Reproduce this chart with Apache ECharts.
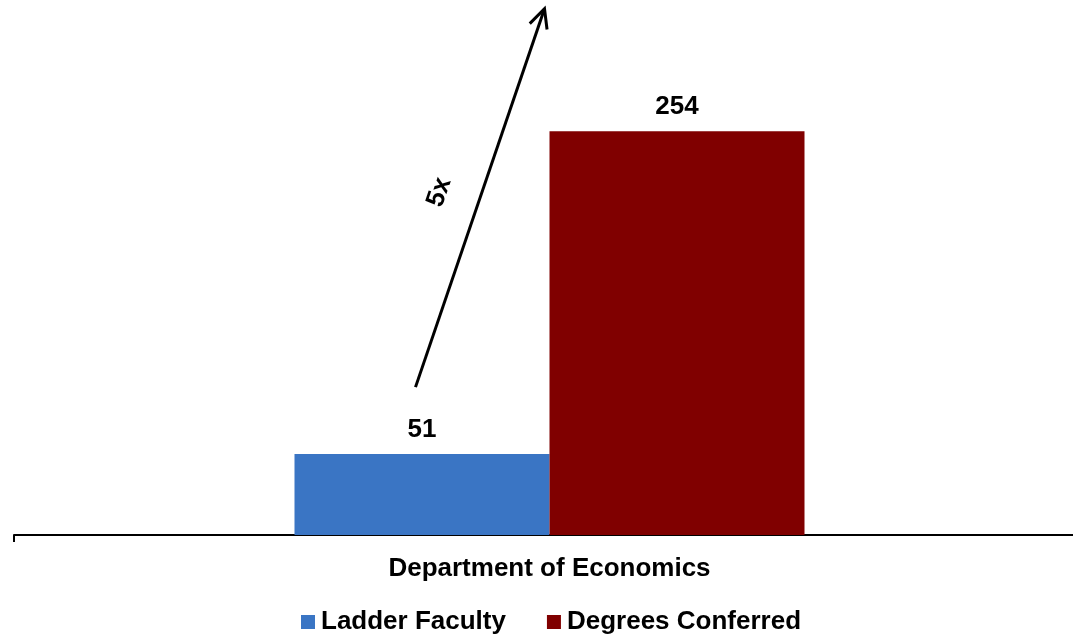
<!DOCTYPE html>
<html><head><meta charset="utf-8">
<script src="https://cdn.jsdelivr.net/npm/echarts@6/dist/echarts.min.js"></script>
<style>html,body{margin:0;padding:0;background:#fff}#c{width:1073px;height:634px}</style>
</head><body><div id="c"></div>
<script>
const categories = ['Department of Economics'];
const seriesNames = ['Ladder Faculty', 'Degrees Conferred'];
const ladderFaculty = [51];
const degreesConferred = [254];
const arrowLabel = '5x';

const FONT = '"Liberation Sans", Arial, sans-serif';
const chart = echarts.init(document.getElementById('c'));
chart.setOption({
  animation: false,
  grid: { left: 14, top: 58, width: 1071, height: 477, containLabel: false, outerBoundsMode: 'none' },
  legend: {
    top: 609, left: 301, padding: 0, itemWidth: 14, itemHeight: 14, itemGap: 41, icon: 'rect',
    textStyle: { fontFamily: FONT, fontWeight: 'bold', fontSize: 26, color: '#000', padding: [0, 0, 0, 1] },
    data: seriesNames
  },
  xAxis: {
    type: 'category', data: categories,
    axisLine: { lineStyle: { color: '#000', width: 2 } },
    axisTick: { show: true, length: 7, lineStyle: { color: '#000', width: 2 } },
    axisLabel: { fontFamily: FONT, fontWeight: 'bold', fontSize: 26, color: '#000', margin: 21 }
  },
  yAxis: { type: 'value', min: 0, max: 300, show: false, splitLine: { show: false } },
  series: [
    { name: seriesNames[0], type: 'bar', data: ladderFaculty, barWidth: 255, barGap: '0%',
      itemStyle: { color: '#3A75C4' },
      label: { show: true, position: 'top', distance: 11, fontFamily: FONT, fontWeight: 'bold', fontSize: 26, color: '#000' } },
    { name: seriesNames[1], type: 'bar', data: degreesConferred, barWidth: 255,
      itemStyle: { color: '#800000' },
      label: { show: true, position: 'top', distance: 11, fontFamily: FONT, fontWeight: 'bold', fontSize: 26, color: '#000' } }
  ]
});

// annotation arrow: from above the faculty bar to above the degrees bar
const base = chart.convertToPixel({ gridIndex: 0 }, [0, 0]);
const yStart = chart.convertToPixel({ yAxisIndex: 0 }, 93);
const yEnd = chart.convertToPixel({ yAxisIndex: 0 }, 331);
const x0 = base[0] - 134, x1 = base[0] - 5;
const ang = Math.atan2(yEnd - yStart, x1 - x0);
const hl = 21, ha = 0.45;
const h1 = [x1 - hl * Math.cos(ang - ha), yEnd - hl * Math.sin(ang - ha)];
const h2 = [x1 - hl * Math.cos(ang + ha), yEnd - hl * Math.sin(ang + ha)];
chart.setOption({
  graphic: [
    { type: 'line', shape: { x1: x0, y1: yStart, x2: x1, y2: yEnd }, style: { stroke: '#000', lineWidth: 3 } },
    { type: 'polyline', shape: { points: [h1, [x1, yEnd], h2] }, style: { stroke: '#000', lineWidth: 3, fill: null } },
    { type: 'text', x: x0 + 24, y: yStart - 195, rotation: -ang,
      style: { text: arrowLabel, font: 'bold 26px ' + FONT, fill: '#000', align: 'center', verticalAlign: 'middle' } }
  ]
});
</script></body></html>
